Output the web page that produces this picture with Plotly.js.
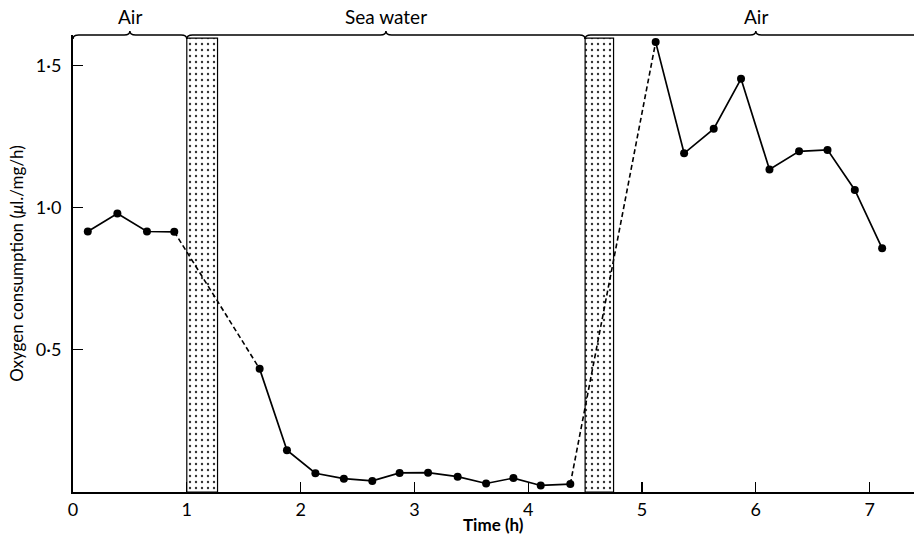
<!DOCTYPE html>
<html>
<head>
<meta charset="utf-8">
<script src="https://cdn.plot.ly/plotly-3.0.1.min.js"></script>
<style>html,body{margin:0;padding:0;background:#fff;}#chart{width:914px;height:544px;}</style>
</head>
<body>
<div id="chart"></div>
<script>
// Phase 1: in air
const airTime1 = [0.13, 0.39, 0.65, 0.89];
const airO2_1 = [0.916, 0.979, 0.916, 0.915];
// Phase 2: in sea water
const seaTime = [1.64, 1.88, 2.13, 2.38, 2.63, 2.87, 3.12, 3.38, 3.63, 3.87, 4.11, 4.37];
const seaO2 = [0.433, 0.147, 0.066, 0.047, 0.039, 0.067, 0.068, 0.054, 0.030, 0.049, 0.023, 0.028];
// Phase 3: back in air
const airTime2 = [5.12, 5.37, 5.63, 5.87, 6.12, 6.38, 6.63, 6.87, 7.11];
const airO2_2 = [1.582, 1.191, 1.277, 1.453, 1.134, 1.198, 1.203, 1.062, 0.857];
// Phases (braces at top) and transfer periods (stippled bands)
const phaseLabels = ['Air', 'Sea water', 'Air'];
const phaseStart = [0, 1.0, 4.5];
const phaseEnd = [1.0, 4.5, 7.5];
const transferStart = [1.0, 4.5];
const transferEnd = [1.27, 4.75];
const bandTop = 1.596;
// Axis ticks and titles
const xTickVals = [0, 1, 2, 3, 4, 5, 6, 7];
const xTickText = ['0', '1', '2', '3', '4', '5', '6', '7'];
const yTickVals = [0.5, 1.0, 1.5];
const yTickText = ['0·5', '1·0', '1·5'];
const xTitle = 'Time (h)';
const yTitle = 'Oxygen consumption (<i>μ</i>l./mg/h)';

const FONT = 'Lato, "Open Sans", sans-serif';
const mk = {color: '#000', size: 8};
const ln = {color: '#000', width: 1.7};

const traces = [];
// stippled transfer bands
traces.push({
  type: 'bar',
  x: transferStart.map((s, i) => (s + transferEnd[i]) / 2),
  width: transferStart.map((s, i) => transferEnd[i] - s),
  y: transferStart.map(() => bandTop),
  base: 0,
  marker: {
    color: '#fff',
    line: {color: '#000', width: 1.2},
    pattern: {shape: '.', fgcolor: '#333', bgcolor: '#fff', size: 6, solidity: 0.12}
  },
  hoverinfo: 'skip', showlegend: false
});
// dashed transitions
traces.push({
  type: 'scatter', mode: 'lines',
  x: [airTime1[airTime1.length - 1], seaTime[0]],
  y: [airO2_1[airO2_1.length - 1], seaO2[0]],
  line: {color: '#000', width: 1.6, dash: '5px,3px'}, showlegend: false
});
traces.push({
  type: 'scatter', mode: 'lines',
  x: [seaTime[seaTime.length - 1], airTime2[0]],
  y: [seaO2[seaO2.length - 1], airO2_2[0]],
  line: {color: '#000', width: 1.6, dash: '5px,3px'}, showlegend: false
});
[[airTime1, airO2_1], [seaTime, seaO2], [airTime2, airO2_2]].forEach(([x, y]) => {
  traces.push({type: 'scatter', mode: 'lines+markers', x: x, y: y, line: ln, marker: mk, showlegend: false});
});

// braces
const h = 4 / 457;
const d = 0.05;
const shapes = [];
phaseStart.forEach((s, i) => {
  const e = phaseEnd[i];
  const m = (s + e) / 2;
  const p = `M ${s},${1 - h} Q ${s},1 ${s + d},1 L ${m - d},1 Q ${m},1 ${m},${1 + h} Q ${m},1 ${m + d},1 L ${e - d},1 Q ${e},1 ${e},${1 - h}`;
  shapes.push({type: 'path', xref: 'x', yref: 'paper', path: p, line: {color: '#000', width: 1.5}});
});
const annotations = phaseLabels.map((t, i) => ({
  x: (phaseStart[i] + phaseEnd[i]) / 2, xref: 'x', y: 1, yref: 'paper',
  yanchor: 'bottom', yshift: 5, showarrow: false, text: t,
  font: {family: FONT, size: 19, color: '#000'}
}));
annotations.push({
  x: 0.5, xref: 'paper', y: 0, yref: 'paper', yanchor: 'top', yshift: -20,
  showarrow: false, text: '<b>' + xTitle + '</b>',
  font: {family: FONT, size: 17, color: '#000'}
});

const layout = {
  width: 914, height: 544,
  margin: {l: 73, r: 0, t: 35, b: 52},
  paper_bgcolor: '#fff', plot_bgcolor: '#fff',
  font: {family: FONT, size: 18, color: '#000'},
  showlegend: false,
  barmode: 'overlay',
  xaxis: {
    range: [0, 7.39], showgrid: false, zeroline: false,
    showline: true, linecolor: '#000', linewidth: 2,
    ticks: 'inside', ticklen: 10, tickwidth: 1.2, tickcolor: '#000',
    tickvals: xTickVals, ticktext: xTickText,
    tickfont: {family: FONT, size: 18}, ticklabelstandoff: 0
  },
  yaxis: {
    range: [0, 1.607], showgrid: false, zeroline: false,
    showline: true, linecolor: '#000', linewidth: 2,
    ticks: 'inside', ticklen: 10, tickwidth: 1.2, tickcolor: '#000',
    tickvals: yTickVals, ticktext: yTickText,
    tickfont: {family: FONT, size: 18}, ticklabelstandoff: 6,
    title: {text: yTitle, font: {family: FONT, size: 17}, standoff: 8}
  },
  shapes: shapes,
  annotations: annotations
};

Plotly.newPlot('chart', traces, layout, {staticPlot: true, displayModeBar: false});
</script>
</body>
</html>
